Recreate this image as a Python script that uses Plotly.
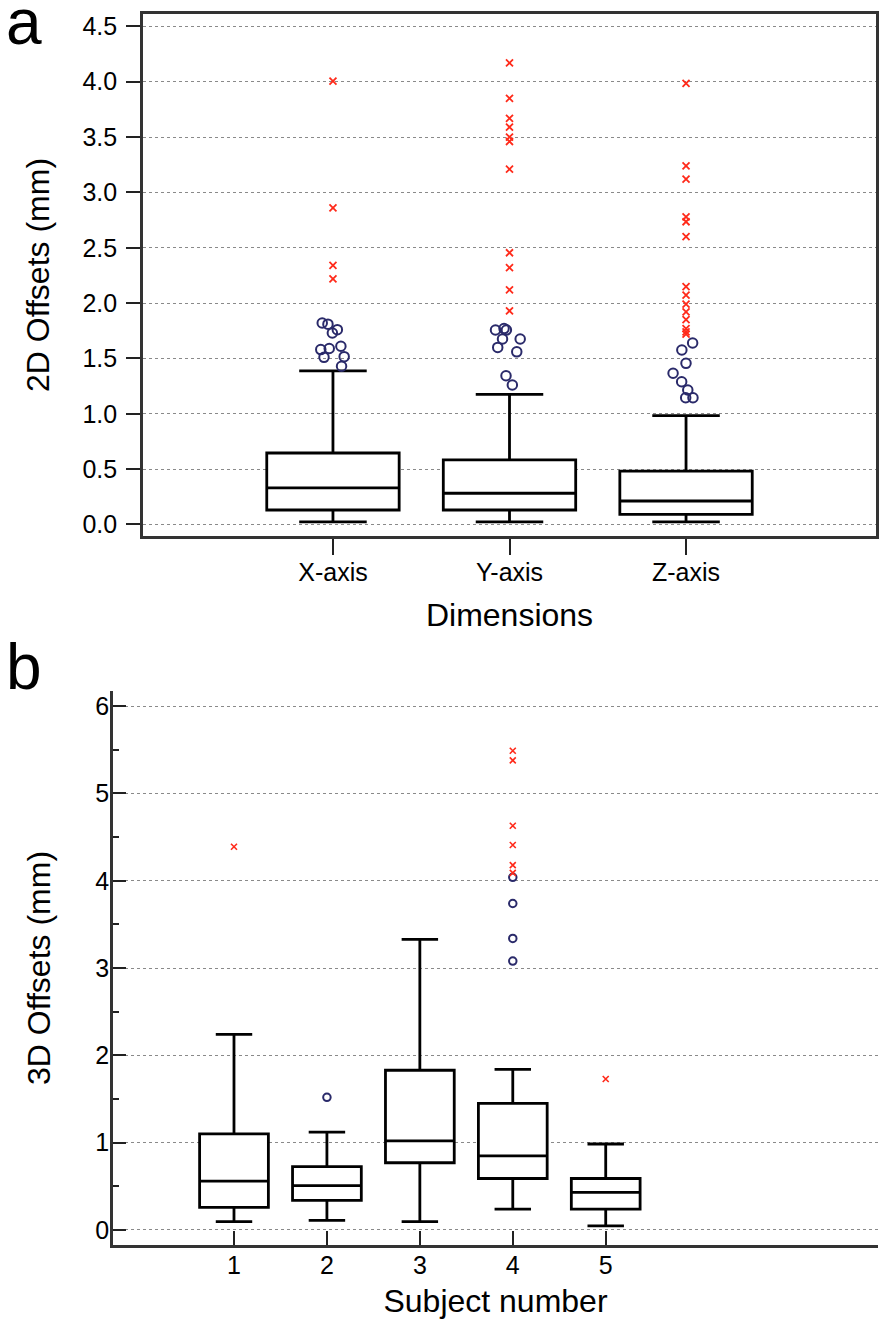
import plotly.graph_objects as go

W, H = 882, 1328

# ---------------- Panel a data ----------------
dims = ["X-axis", "Y-axis", "Z-axis"]
dim_lowerfence = [0.024, 0.024, 0.024]
dim_q1 = [0.131, 0.131, 0.092]
dim_median = [0.33, 0.282, 0.212]
dim_q3 = [0.646, 0.583, 0.483]
dim_upperfence = [1.387, 1.176, 0.983]

x_outliers = [1.82, 1.81, 1.76, 1.73, 1.61, 1.59, 1.58, 1.516, 1.51, 1.43]
x_extremes = [4.006, 2.86, 2.34, 2.218]
y_outliers = [1.77, 1.757, 1.757, 1.676, 1.676, 1.60, 1.56, 1.344, 1.26]
y_extremes = [4.17, 3.85, 3.67, 3.59, 3.50, 3.46, 3.21, 2.455, 2.32, 2.12, 1.93]
z_outliers = [1.64, 1.576, 1.456, 1.366, 1.29, 1.215, 1.145, 1.145]
z_extremes = [3.985, 3.24, 3.12, 2.78, 2.735, 2.60, 2.148, 2.073, 1.99, 1.92, 1.85, 1.77, 1.74, 1.72]

# ---------------- Panel b data ----------------
subjects = [1, 2, 3, 4, 5]
sub_lowerfence = [0.095, 0.11, 0.095, 0.24, 0.046]
sub_q1 = [0.26, 0.34, 0.77, 0.59, 0.24]
sub_median = [0.56, 0.507, 1.02, 0.85, 0.43]
sub_q3 = [1.10, 0.725, 1.83, 1.45, 0.59]
sub_upperfence = [2.24, 1.12, 3.33, 1.84, 0.985]

sub_outlier_x = [2, 4, 4, 4, 4]
sub_outlier_y = [1.52, 4.04, 3.74, 3.34, 3.08]
sub_extreme_x = [1, 4, 4, 4, 4, 4, 4, 5]
sub_extreme_y = [4.39, 5.49, 5.38, 4.63, 4.41, 4.18, 4.09, 1.73]

FONT = "Liberation Sans, Arial, sans-serif"
NAVY = "#2a2a6a"
RED = "#ff2a1a"
BOXLINE = dict(color="black", width=2.8)

fig = go.Figure()

# Panel a boxes
fig.add_trace(go.Box(
    x=dims, q1=dim_q1, median=dim_median, q3=dim_q3,
    lowerfence=dim_lowerfence, upperfence=dim_upperfence,
    boxpoints=False, width=0.75, whiskerwidth=0.51,
    fillcolor="white", line=BOXLINE,
    xaxis="x", yaxis="y", showlegend=False, hoverinfo="skip",
))
out_x = [dims[0]] * len(x_outliers) + [dims[1]] * len(y_outliers) + [dims[2]] * len(z_outliers)
out_y = x_outliers + y_outliers + z_outliers
fig.add_trace(go.Box(
    x=out_x, y=out_y, boxpoints="all", jitter=0.25, pointpos=0, width=0.75,
    fillcolor="rgba(0,0,0,0)", line=dict(width=0, color="rgba(0,0,0,0)"),
    marker=dict(symbol="circle-open", size=9.5, color=NAVY, line=dict(color=NAVY, width=2)),
    xaxis="x", yaxis="y", showlegend=False, hoverinfo="y",
))
ext_x = [dims[0]] * len(x_extremes) + [dims[1]] * len(y_extremes) + [dims[2]] * len(z_extremes)
ext_y = x_extremes + y_extremes + z_extremes
fig.add_trace(go.Scatter(
    x=ext_x, y=ext_y, mode="markers",
    marker=dict(symbol="x-thin", size=7, color=RED, line=dict(color=RED, width=1.8)),
    xaxis="x", yaxis="y", showlegend=False,
))

# Panel b boxes
fig.add_trace(go.Box(
    x=subjects, q1=sub_q1, median=sub_median, q3=sub_q3,
    lowerfence=sub_lowerfence, upperfence=sub_upperfence,
    boxpoints=False, width=0.74, whiskerwidth=0.53,
    fillcolor="white", line=BOXLINE,
    xaxis="x2", yaxis="y2", showlegend=False, hoverinfo="skip",
))
fig.add_trace(go.Scatter(
    x=sub_outlier_x, y=sub_outlier_y, mode="markers",
    marker=dict(symbol="circle-open", size=7.5, color=NAVY, line=dict(color=NAVY, width=2)),
    xaxis="x2", yaxis="y2", showlegend=False,
))
fig.add_trace(go.Scatter(
    x=sub_extreme_x, y=sub_extreme_y, mode="markers",
    marker=dict(symbol="x-thin", size=6, color=RED, line=dict(color=RED, width=1.6)),
    xaxis="x2", yaxis="y2", showlegend=False,
))

def px_x(p):
    return p / W

def px_y(p):
    return 1 - p / H

tickfont = dict(family=FONT, size=25, color="black")
titlefont = dict(family=FONT, size=32, color="black")

fig.update_layout(
    width=W, height=H,
    margin=dict(l=0, r=0, t=0, b=0),
    paper_bgcolor="white", plot_bgcolor="white",
    font=dict(family=FONT, color="black"),
    boxmode="overlay",
    xaxis=dict(
        domain=[px_x(143), px_x(876)], anchor="y", automargin=False,
        type="category", categoryorder="array", categoryarray=dims,
        range=[-1.076, 3.076],
        showline=True, mirror=True, linecolor="#333", linewidth=2.6,
        ticks="outside", ticklen=16, tickwidth=2, tickcolor="#222",
        ticklabelstandoff=-4,
        tickfont=tickfont, showgrid=False, zeroline=False,
        title=dict(text="Dimensions", font=titlefont, standoff=19),
    ),
    yaxis=dict(
        domain=[px_y(536), px_y(14)], anchor="x", automargin=False,
        range=[-0.104, 4.612],
        tickmode="array", tickvals=[0, 0.5, 1, 1.5, 2, 2.5, 3, 3.5, 4, 4.5],
        ticktext=["0.0", "0.5", "1.0", "1.5", "2.0", "2.5", "3.0", "3.5", "4.0", "4.5"],
        showline=True, mirror=True, linecolor="#333", linewidth=2.6,
        ticks="outside", ticklen=14, tickwidth=2, tickcolor="#222",
        ticklabelstandoff=4,
        tickfont=tickfont, showgrid=True, gridcolor="#8a8a8a", griddash="dot", gridwidth=1.2,
        zeroline=False,
        title=dict(text="2D Offsets (mm)", font=titlefont, standoff=24),
    ),
    xaxis2=dict(
        domain=[px_x(113), px_x(878)], anchor="y2", automargin=False,
        range=[-0.302, 7.93],
        tickmode="array", tickvals=subjects, ticktext=[str(s) for s in subjects],
        showline=True, mirror=False, linecolor="#333", linewidth=2.6,
        ticks="inside", ticklen=14, tickwidth=2, tickcolor="#222",
        ticklabelstandoff=-4,
        tickfont=tickfont, showgrid=False, zeroline=False,
        title=dict(text="Subject number", font=titlefont, standoff=12),
    ),
    yaxis2=dict(
        domain=[px_y(1245), px_y(691)], anchor="x2", automargin=False,
        range=[-0.172, 6.174],
        tickmode="array", tickvals=[0, 1, 2, 3, 4, 5, 6],
        showline=True, mirror=False, linecolor="#333", linewidth=2.6,
        ticks="inside", ticklen=13, tickwidth=2, tickcolor="#222",
        ticklabelstandoff=-4,
        minor=dict(ticks="inside", ticklen=6, tickwidth=1.5, tickcolor="#222", dtick=0.5, tick0=0, showgrid=False),
        tickfont=tickfont, showgrid=True, gridcolor="#8a8a8a", griddash="dot", gridwidth=1.2,
        zeroline=False,
        title=dict(text="3D Offsets (mm)", font=titlefont, standoff=36),
    ),
    annotations=[
        dict(text="a", x=px_x(4), y=px_y(4), xref="paper", yref="paper",
             xanchor="left", yanchor="top", showarrow=False,
             height=52, valign="bottom",
             font=dict(family=FONT, size=64, color="black")),
        dict(text="b", x=px_x(4), y=px_y(629), xref="paper", yref="paper",
             xanchor="left", yanchor="top", showarrow=False,
             font=dict(family=FONT, size=64, color="black")),
    ],
)

fig.write_html("out.html", config={"displayModeBar": False},
               post_script="document.body.style.margin='0';document.body.style.padding='0';")
